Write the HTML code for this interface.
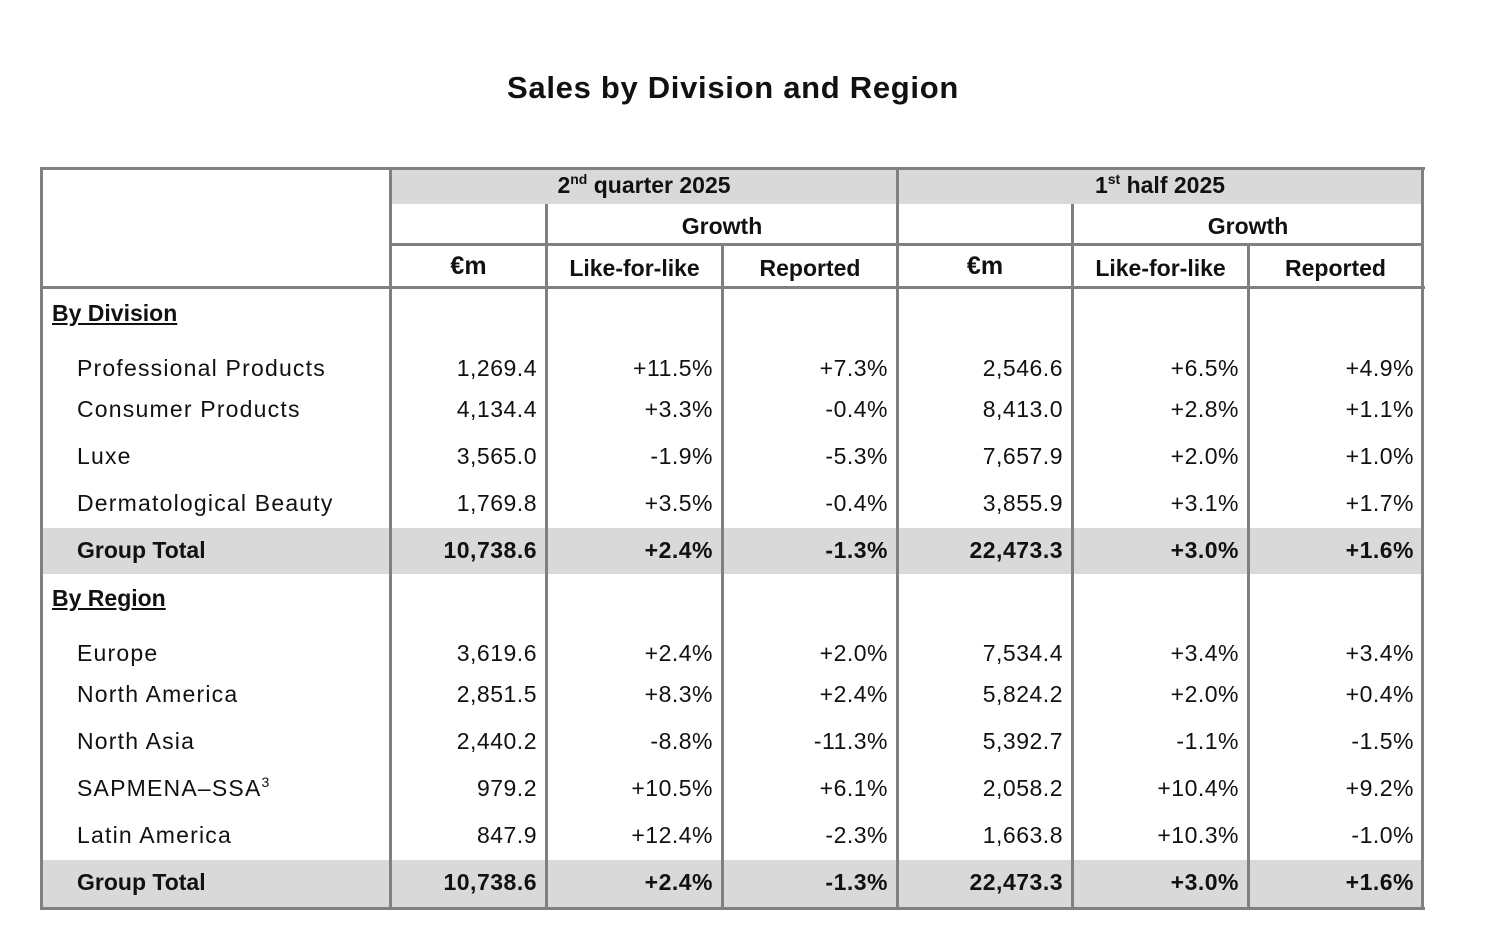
<!DOCTYPE html>
<html><head><meta charset="utf-8"><style>
body{margin:0;width:1510px;height:946px;background:#fff;position:relative;overflow:hidden;font-family:"Liberation Sans","DejaVu Sans",sans-serif;color:#111}
.a{position:absolute}
.h{position:absolute;height:3px;background:#808080}
.v{position:absolute;width:3px;background:#808080}
.g{position:absolute;background:#d9d9d9}
.t{position:absolute;font-size:23px;line-height:30px;white-space:nowrap}
.r{text-align:right;width:200px}
.c{text-align:center}
.b{font-weight:bold}
.l{letter-spacing:1.2px}
sup{font-size:14px;line-height:0;vertical-align:0;position:relative;top:-9px}
</style></head><body>
<div class="a b c" style="left:0;width:1466px;top:68px;font-size:31px;line-height:40px;letter-spacing:0.7px">Sales by Division and Region</div>
<div class="g" style="left:390px;top:168px;width:1033px;height:36px"></div>
<div class="g" style="left:41px;top:528px;width:1382px;height:46px"></div>
<div class="g" style="left:41px;top:860px;width:1382px;height:48px"></div>
<div class="h" style="left:40px;top:167px;width:1385px"></div>
<div class="h" style="left:390px;top:243px;width:1033px"></div>
<div class="h" style="left:40px;top:286px;width:1385px"></div>
<div class="h" style="left:40px;top:907px;width:1385px"></div>
<div class="v" style="left:40px;top:167px;height:743px"></div>
<div class="v" style="left:389px;top:167px;height:743px"></div>
<div class="v" style="left:545px;top:204px;height:706px"></div>
<div class="v" style="left:721px;top:243px;height:667px"></div>
<div class="v" style="left:896px;top:167px;height:743px"></div>
<div class="v" style="left:1071px;top:204px;height:706px"></div>
<div class="v" style="left:1247px;top:243px;height:667px"></div>
<div class="v" style="left:1421px;top:167px;height:743px"></div>
<div class="t b c" style="left:392px;width:504px;top:170px">2<sup>nd</sup> quarter 2025</div>
<div class="t b c" style="left:899px;width:522px;top:170px">1<sup>st</sup> half 2025</div>
<div class="t b c" style="left:548px;width:348px;top:211px">Growth</div>
<div class="t b c" style="left:1074px;width:348px;top:211px">Growth</div>
<div class="t b c" style="left:392px;width:153px;top:251px;font-size:25px">€m</div>
<div class="t b c" style="left:548px;width:173px;top:253px">Like-for-like</div>
<div class="t b c" style="left:724px;width:172px;top:253px">Reported</div>
<div class="t b c" style="left:899px;width:172px;top:251px;font-size:25px">€m</div>
<div class="t b c" style="left:1074px;width:173px;top:253px">Like-for-like</div>
<div class="t b c" style="left:1250px;width:171px;top:253px">Reported</div>
<div class="t b" style="left:52px;top:298px;text-decoration:underline">By Division</div>
<div class="t b" style="left:52px;top:583px;text-decoration:underline">By Region</div>
<div id="rows"></div>
<script>
var rows=[[368,"Professional Products","1,269.4","+11.5%","+7.3%","2,546.6","+6.5%","+4.9%"],
[409,"Consumer Products","4,134.4","+3.3%","-0.4%","8,413.0","+2.8%","+1.1%"],
[456,"Luxe","3,565.0","-1.9%","-5.3%","7,657.9","+2.0%","+1.0%"],
[503,"Dermatological Beauty","1,769.8","+3.5%","-0.4%","3,855.9","+3.1%","+1.7%"],
[550,"Group Total","10,738.6","+2.4%","-1.3%","22,473.3","+3.0%","+1.6%",1],
[653,"Europe","3,619.6","+2.4%","+2.0%","7,534.4","+3.4%","+3.4%"],
[694,"North America","2,851.5","+8.3%","+2.4%","5,824.2","+2.0%","+0.4%"],
[741,"North Asia","2,440.2","-8.8%","-11.3%","5,392.7","-1.1%","-1.5%"],
[788,"SAPMENA–SSA<sup>3</sup>","979.2","+10.5%","+6.1%","2,058.2","+10.4%","+9.2%"],
[835,"Latin America","847.9","+12.4%","-2.3%","1,663.8","+10.3%","-1.0%"],
[882,"Group Total","10,738.6","+2.4%","-1.3%","22,473.3","+3.0%","+1.6%",1]];
var xs=[537,713,888,1063,1239,1414],h="";
rows.forEach(function(r){var b=r[8]?" b":" l";var y=r[0]-15;
h+='<div class="t'+b+'" style="left:77px;top:'+y+'px">'+r[1]+'</div>';
for(var i=0;i<6;i++)h+='<div class="t r'+b+'" style="left:'+(xs[i]-200)+'px;top:'+y+'px;letter-spacing:0.5px">'+r[i+2]+'</div>';});
document.getElementById("rows").innerHTML=h;
</script>
</body></html>
